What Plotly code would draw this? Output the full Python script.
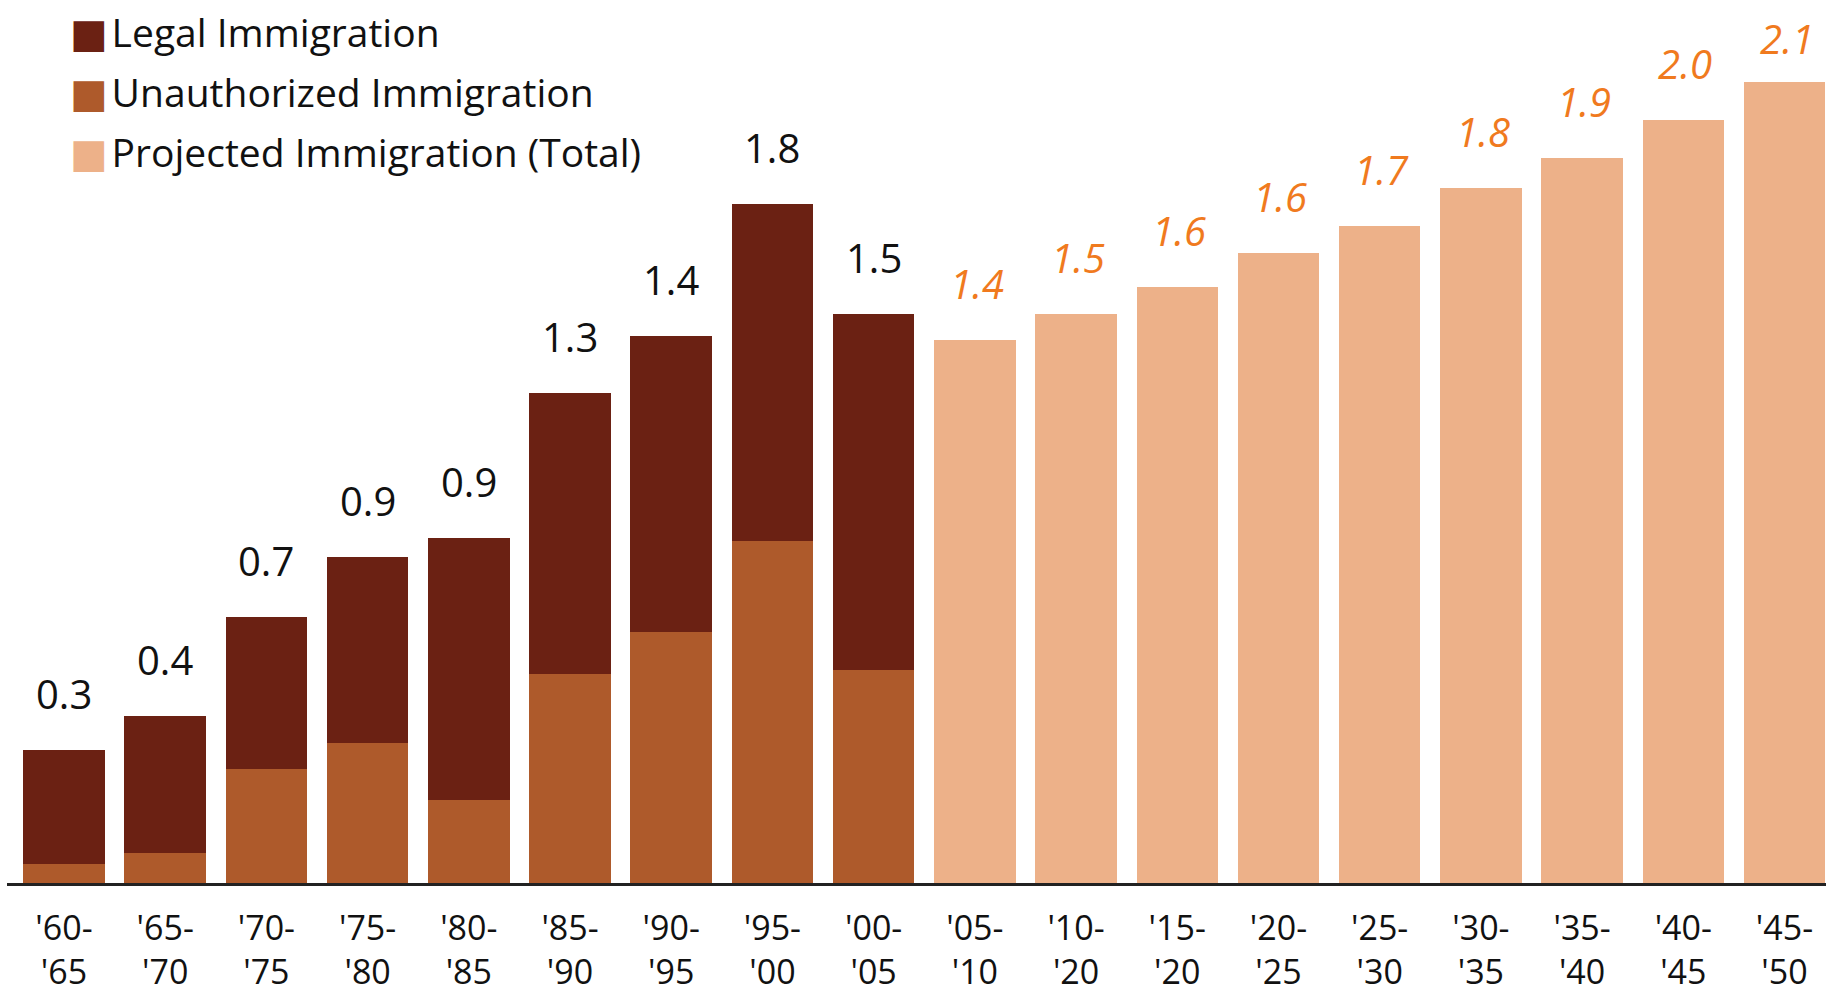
import plotly.graph_objects as go

periods = ["'60-<br>'65", "'65-<br>'70", "'70-<br>'75", "'75-<br>'80", "'80-<br>'85",
           "'85-<br>'90", "'90-<br>'95", "'95-<br>'00", "'00-<br>'05",
           "'05-<br>'10", "'10-<br>'20", "'15-<br>'20", "'20-<br>'25", "'25-<br>'30",
           "'30-<br>'35", "'35-<br>'40", "'40-<br>'45", "'45-<br>'50"]

hist_idx = list(range(0, 9))
proj_idx = list(range(9, 18))

unauthorized = [0.05, 0.08, 0.30, 0.37, 0.22, 0.55, 0.66, 0.90, 0.56]
legal = [0.30, 0.36, 0.40, 0.49, 0.69, 0.74, 0.78, 0.89, 0.94]
hist_labels = ["0.3", "0.4", "0.7", "0.9", "0.9", "1.3", "1.4", "1.8", "1.5"]

projected = [1.43, 1.50, 1.57, 1.66, 1.73, 1.83, 1.91, 2.01, 2.11]
proj_labels = ["1.4", "1.5", "1.6", "1.6", "1.7", "1.8", "1.9", "2.0", "2.1"]

legend_names = ["Legal Immigration", "Unauthorized Immigration", "Projected Immigration (Total)"]

C_LEGAL = "#6B2113"
C_UNAUTH = "#AE5A2B"
C_PROJ = "#EDB189"
C_ORANGE = "#F07A1E"
FONT = "Open Sans"

fig = go.Figure()
fig.add_trace(go.Bar(x=hist_idx, y=unauthorized, marker_color=C_UNAUTH,
                     marker_line_width=0, showlegend=False))
fig.add_trace(go.Bar(x=hist_idx, y=legal, marker_color=C_LEGAL,
                     marker_line_width=0, showlegend=False))
fig.add_trace(go.Bar(x=proj_idx, y=projected, marker_color=C_PROJ,
                     marker_line_width=0, showlegend=False))

# legend entries (large square glyph in the colour of each series)
for i, (name, col) in enumerate(zip(legend_names, [C_LEGAL, C_UNAUTH, C_PROJ])):
    fig.add_trace(go.Scatter(
        x=[None], y=[None], mode="markers", legendgroup=f"g{i}",
        name=f"<span style='color:{col};font-family:DejaVu Sans;font-size:40px'>■</span>\u200a{name}",
        marker=dict(size=1, color="rgba(0,0,0,0)")))

totals = [u + l for u, l in zip(unauthorized, legal)]
for xi, t, lab in zip(hist_idx, totals, hist_labels):
    fig.add_annotation(x=xi, y=t, text=lab, showarrow=False, yanchor="bottom",
                       yshift=27, font=dict(family=FONT, size=40, color="#111111"))
proj_shift = [27, 27, 27, 27, 27, 27, 27, 27, 14]
for xi, t, lab, ys in zip(proj_idx, projected, proj_labels, proj_shift):
    fig.add_annotation(x=xi, y=t, text=f"<i>{lab}</i>", showarrow=False, yanchor="bottom",
                       yshift=ys, xshift=2, font=dict(family=FONT, size=40, color=C_ORANGE))

fig.update_layout(
    width=1826, height=993,
    margin=dict(l=7, r=0, t=10, b=110),
    paper_bgcolor="white", plot_bgcolor="white",
    barmode="stack", bargap=0.195,
    showlegend=True,
    legend=dict(x=0.0126, y=1.011, xanchor="left", yanchor="top",
                font=dict(family=FONT, size=39, color="#111111"),
                traceorder="grouped", tracegroupgap=6,
                bgcolor="rgba(0,0,0,0)"),
    xaxis=dict(tickmode="array", tickvals=list(range(18)), ticktext=periods,
               range=[-0.563, 17.41], showgrid=False, zeroline=False,
               showline=True, linecolor="#222222", linewidth=3, ticks="",
               tickfont=dict(family=FONT, size=34, color="#111111"),
               ticklabelstandoff=13, automargin=False),
    yaxis=dict(range=[0, 2.30], visible=False, showgrid=False, zeroline=False,
               automargin=False),
)

fig.write_html("out.html", config={"displayModeBar": False},
               post_script="document.body.style.margin='0';")
